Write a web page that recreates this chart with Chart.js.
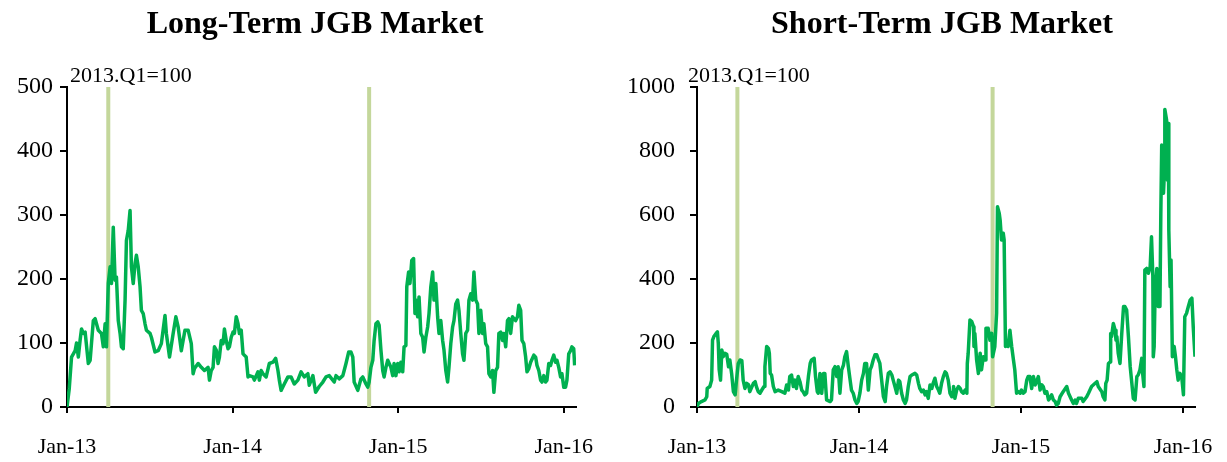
<!DOCTYPE html>
<html><head><meta charset="utf-8">
<script src="https://cdn.jsdelivr.net/npm/chart.js@4.4.0/dist/chart.umd.min.js"></script>
<style>
html,body{margin:0;padding:0;background:#fff;overflow:hidden;}
#wrap{position:relative;width:1227px;height:462px;overflow:hidden;background:#fff;}
#c1{position:absolute;left:0;top:0;}
#c2{position:absolute;left:613px;top:0;}
</style></head><body>
<div id="wrap"><canvas id="c1" width="613" height="462"></canvas><canvas id="c2" width="614" height="462"></canvas></div>
<script>
// x positions are days since 1 Jan 2013
const xTickDays = [0, 365, 730, 1095];
const xTickLabels = ['Jan-13', 'Jan-14', 'Jan-15', 'Jan-16'];
const eventDays = [91, 666];
const titles = ['Long-Term JGB Market', 'Short-Term JGB Market'];
const indexNote = '2013.Q1=100';
const ltTicks = [0, 100, 200, 300, 400, 500];
const stTicks = [0, 200, 400, 600, 800, 1000];

const ltDays = [0,5,10,18,21,25,29,32,36,40,47,51,58,62,69,76,80,84,87,91,95,98,102,106,109,113,117,120,124,128,131,135,139,142,146,150,153,157,161,164,168,172,175,183,186,194,201,208,216,219,226,234,240,245,252,260,267,274,278,
281,289,296,303,311,314,318,322,325,329,333,336,340,344,347,351,355,358,362,366,369,373,377,380,384,388,395,399,402,410,413,421,424,428,432,439,446,454,460,465,468,472,479,487,494,501,509,516,523,531,534,542,548,556,
564,571,578,589,593,600,608,611,615,621,626,630,633,641,648,652,659,663,666,670,674,677,681,685,688,692,696,699,703,707,714,718,721,725,729,732,736,740,743,747,749,753,756,760,764,767,769,773,776,780,784,787,791,795,798,802,806,809,813,817,820,824,828,831,835,839,842,846,
850,853,857,861,864,868,872,875,879,883,886,890,894,897,901,905,908,912,916,919,923,927,930,934,938,941,945,949,952,956,960,963,967,971,974,978,982,989,993,996,1000,1003,1007,1011,1014,1018,1022,1029,1033,1036,1040,1044,1047,1051,1055,1058,1062,1066,1069,1073,1077,1080,1084,1088,1091,1095,1099,1102,1106,1110,1113,1117,1119];
const ltValues = [0,29,78,88,100,78,105,122,115,117,68,73,135,138,120,115,94,130,94,193,219,193,281,198,203,135,115,94,91,167,260,276,307,219,193,224,237,219,188,151,146,130,120,115,109,86,88,99,143,115,78,115,141,125,88,120,120,99,52,
60,68,62,57,62,42,57,62,94,89,68,78,104,99,122,104,91,94,109,117,115,141,130,115,120,83,78,47,49,47,42,55,42,57,52,47,68,70,76,57,42,26,36,47,47,36,42,55,47,52,34,49,23,32,
39,47,49,39,49,44,49,57,68,86,86,78,39,26,44,47,36,31,39,62,73,104,130,133,128,89,57,47,62,73,62,49,68,49,68,55,70,55,94,96,188,211,193,229,232,146,167,141,172,115,109,86,109,125,146,188,211,167,193,141,115,135,104,89,57,39,62,99,
125,135,161,167,151,115,83,73,115,120,167,177,167,211,167,161,115,151,115,130,99,94,52,47,57,23,57,62,115,117,104,115,94,135,138,115,141,135,141,159,151,104,99,78,55,60,70,81,78,65,57,42,39,49,39,42,68,65,73,81,70,73,62,47,52,31,31,42,83,88,94,91,65];

const stDays = [0,3,10,18,22,23,29,33,35,38,43,46,48,50,53,56,59,63,67,71,74,78,82,86,89,93,97,101,104,108,112,116,119,127,131,134,138,142,146,151,153,157,161,163,165,168,172,176,183,191,198,202,206,209,213,217,221,224,228,232,236,239,243,247,251,255,258,264,267,271,273,277,
281,285,288,292,300,303,307,311,315,318,322,326,330,333,337,341,345,348,352,356,360,363,367,371,375,378,382,386,390,393,397,401,405,409,412,416,420,424,427,431,435,439,442,446,450,454,457,461,465,469,472,476,480,484,491,495,499,502,506,510,514,517,521,525,529,532,536,540,544,547,551,555,559,562,566,570,574,577,
578,581,585,589,593,596,600,604,608,609,611,615,619,623,624,626,630,634,638,641,645,649,651,656,660,664,666,671,675,677,681,683,686,690,692,695,698,701,705,709,713,716,720,724,728,731,735,739,743,746,750,754,758,762,765,769,773,777,780,784,788,792,795,799,803,807,810,814,818,825,833,
837,844,848,852,855,859,867,870,878,882,889,897,901,904,912,915,919,921,924,927,931,932,934,938,942,944,946,949,953,957,961,964,968,972,976,979,983,987,991,994,998,1002,1004,1007,1009,1013,1017,1021,1024,1027,1028,1030,1032,1036,1039,1043,1045,1047,1049,1051,1053,1054,1058,1060,1062,1063,1066,1068,1071,1075,1078,1081,1084,1088,1092,1096,1099,1103,1107,1111,1115,1118,1122];
const stValues = [0,11,17,22,32,58,64,84,209,220,230,235,199,116,84,178,157,168,165,126,147,105,48,38,84,136,147,145,84,58,74,70,48,74,79,63,48,43,53,64,126,189,183,168,105,100,64,48,53,48,43,69,53,95,100,64,84,58,95,79,53,48,38,43,95,136,147,152,95,48,43,105,
43,105,105,22,17,22,116,126,95,126,43,116,131,157,173,126,84,53,43,22,11,17,43,84,105,136,136,53,116,126,147,163,163,147,136,84,32,17,64,105,110,100,84,64,43,84,79,43,22,11,22,64,95,100,105,100,74,58,48,53,38,48,27,69,58,74,90,64,53,43,74,95,110,105,84,43,32,48,
64,27,53,64,58,48,43,53,43,136,168,272,267,251,189,230,147,105,168,116,157,147,246,246,209,230,157,189,293,626,605,584,522,543,522,189,199,189,240,189,147,116,43,48,43,53,43,48,84,95,95,58,95,69,79,95,53,69,64,43,48,22,27,38,22,17,6,11,32,48,64,
43,22,11,22,11,27,27,17,32,43,64,74,79,64,48,32,22,74,84,136,141,230,220,261,240,209,220,168,136,230,314,314,303,220,126,84,27,22,95,100,116,152,105,64,428,433,418,438,532,409,157,189,355,433,314,314,605,819,761,668,730,930,897,709,886,553,376,459,157,189,157,116,84,105,95,38,282,293,314,334,340,251,157];

const FONT = "'Liberation Serif', 'Times New Roman', serif";
Chart.defaults.font.family = FONT;
Chart.defaults.color = '#000';

function makeChart(id, title, days, values, yTicks, axisW, padRight, yPad, noteX, titleX) {
  const yMax = yTicks[yTicks.length - 1];
  const seriesData = days.map((d, i) => ({x: d, y: values[i]}));
  const datasets = [{
    data: seriesData, borderColor: '#00B050', borderWidth: 3.5, pointRadius: 0,
    tension: 0, borderJoinStyle: 'round', fill: false
  }];
  eventDays.forEach(d => datasets.push({
    data: [{x: d, y: 0}, {x: d, y: yMax}], borderColor: '#C4D79B', borderWidth: 4,
    pointRadius: 0, fill: false
  }));
  const textPlugin = {
    id: 'texts',
    afterDraw(chart) {
      const ctx = chart.ctx;
      ctx.save();
      ctx.fillStyle = '#000';
      ctx.font = 'bold 32px ' + FONT;
      ctx.textAlign = 'center';
      ctx.textBaseline = 'middle';
      ctx.fillText(title, titleX, 25);
      ctx.font = '22px ' + FONT;
      ctx.textAlign = 'left';
      ctx.textBaseline = 'alphabetic';
      ctx.fillText(indexNote, noteX, 82);
      ctx.restore();
    }
  };
  return new Chart(document.getElementById(id), {
    type: 'line',
    data: {datasets},
    plugins: [textPlugin],
    options: {
      responsive: false, animation: false, devicePixelRatio: 1,
      layout: {padding: {left: 0, right: padRight, top: 87, bottom: 0}},
      plugins: {legend: {display: false}, tooltip: {enabled: false}, title: {display: false}},
      scales: {
        x: {
          type: 'linear', min: 0, max: 1122,
          afterBuildTicks(scale) { scale.ticks = xTickDays.map(v => ({value: v})); },
          afterFit(scale) { scale.height = 55; scale.paddingLeft = 0; scale.paddingRight = 0; },
          ticks: {
            callback(v) { const i = xTickDays.indexOf(v); return i >= 0 ? xTickLabels[i] : ''; },
            font: {family: FONT, size: 22}, color: '#000', padding: 21, maxRotation: 0, autoSkip: false
          },
          grid: {display: true, drawOnChartArea: false, drawTicks: true, tickLength: 6, color: '#000', lineWidth: 2},
          border: {display: true, color: '#000', width: 2}
        },
        y: {
          min: 0, max: yMax,
          afterBuildTicks(scale) { scale.ticks = yTicks.map(v => ({value: v})); },
          afterFit(scale) { scale.width = axisW; },
          ticks: {font: {family: FONT, size: 24}, color: '#000', padding: yPad,
            callback(v) { return String(v); }},
          grid: {display: true, drawOnChartArea: false, drawTicks: true, tickLength: 7, color: '#000', lineWidth: 2},
          border: {display: true, color: '#000', width: 2}
        }
      }
    }
  });
}

// left canvas (x 0): chart area 67..576; right canvas (x 613): chart area 84..582
makeChart('c1', titles[0], ltDays, ltValues, ltTicks, 67, 37, 7, 70, 315);
makeChart('c2', titles[1], stDays, stValues, stTicks, 84, 32, 15, 75, 329);
</script>
</body></html>
